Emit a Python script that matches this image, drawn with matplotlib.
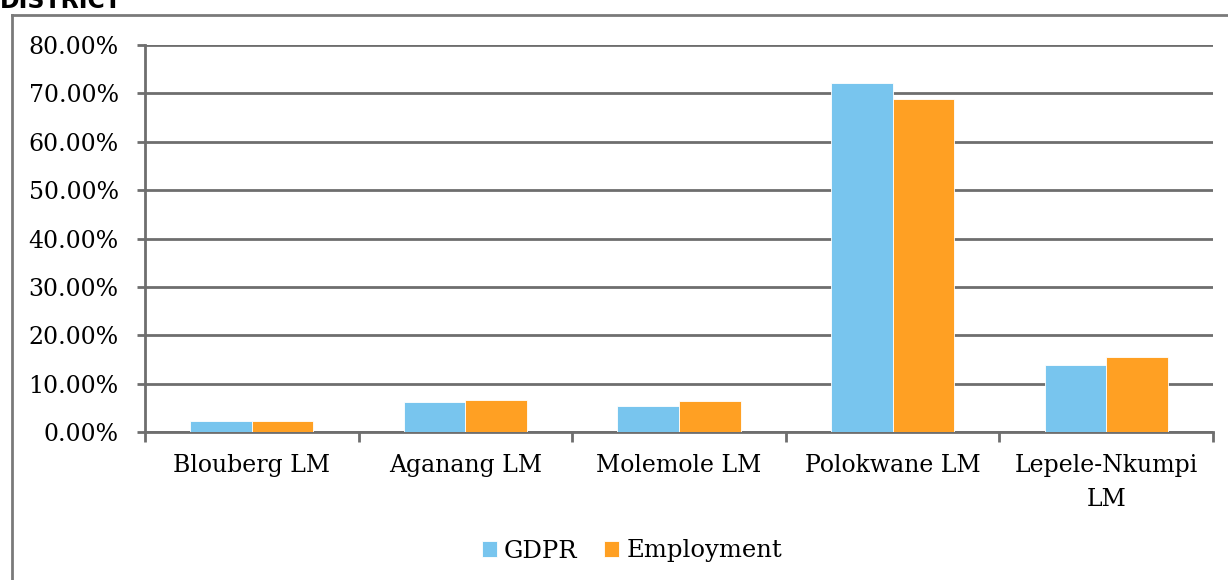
import matplotlib
matplotlib.use("Agg")
import matplotlib.pyplot as plt
from matplotlib.lines import Line2D
from matplotlib.ticker import MultipleLocator, FuncFormatter
import numpy as np

# Share of district GDPR and employment by local municipality (%)
municipalities = ["Blouberg LM", "Aganang LM", "Molemole LM", "Polokwane LM", "Lepele-Nkumpi\nLM"]
gdpr = [2.2, 6.2, 5.4, 72.1, 13.9]
employment = [2.35, 6.6, 6.5, 68.9, 15.5]

series_names = ["GDPR", "Employment"]
series_colors = ["#78C5EE", "#FFA023"]
grid_color = "#6E6E6E"

plt.rcParams["font.family"] = ["DejaVu Serif"]

fig = plt.figure(figsize=(12.28, 5.8), dpi=100)
ax = fig.add_axes([145 / 1228, 1 - 432 / 580, (1213 - 145) / 1228, (432 - 45) / 580])

x = np.arange(len(municipalities))
w = 0.288
ax.bar(x - w / 2, gdpr, width=w, color=series_colors[0], edgecolor="white", linewidth=0.6,
       label=series_names[0], zorder=3)
ax.bar(x + w / 2, employment, width=w, color=series_colors[1], edgecolor="white", linewidth=0.6,
       label=series_names[1], zorder=3)

ax.set_xlim(-0.5, len(municipalities) - 0.5)
ax.set_ylim(0, 80)
ax.yaxis.set_major_locator(MultipleLocator(10))
ax.yaxis.set_major_formatter(FuncFormatter(lambda v, _: f"{v:.2f}%"))
ax.grid(axis="y", color=grid_color, linewidth=2, zorder=0)
ax.set_axisbelow(True)

# category labels centred between boundary ticks
ax.set_xticks(x)
ax.set_xticklabels(municipalities, fontsize=17, linespacing=1.6)
ax.tick_params(axis="x", length=0, pad=16)
ax.set_xticks(np.arange(-0.5, len(municipalities)), minor=True)
ax.tick_params(axis="x", which="minor", length=7, width=2, color=grid_color, direction="out")
ax.tick_params(axis="y", length=6, width=2, color=grid_color, direction="out", labelsize=17, pad=13)

for side in ["top", "right"]:
    ax.spines[side].set_visible(False)
for side in ["left", "bottom"]:
    ax.spines[side].set_color(grid_color)
    ax.spines[side].set_linewidth(2)

leg = fig.legend(loc="center", bbox_to_anchor=(632 / 1228, 1 - 551 / 580), ncol=2, frameon=False,
                 fontsize=17.5, handlelength=0.62, handleheight=0.62, handletextpad=0.3,
                 columnspacing=1.1)

# chart frame and heading
fig.add_artist(Line2D([12 / 1228, 12 / 1228], [0, 1 - 15 / 580], transform=fig.transFigure,
                      color="#7A7A7A", linewidth=2))
fig.add_artist(Line2D([12 / 1228, 1], [1 - 15 / 580, 1 - 15 / 580], transform=fig.transFigure,
                      color="#7A7A7A", linewidth=2))
fig.text(0, 1 - 8 / 580, "DISTRICT", fontsize=17, fontweight="bold", family="DejaVu Sans",
         va="baseline", ha="left")

fig.savefig("out.png", dpi=100)
